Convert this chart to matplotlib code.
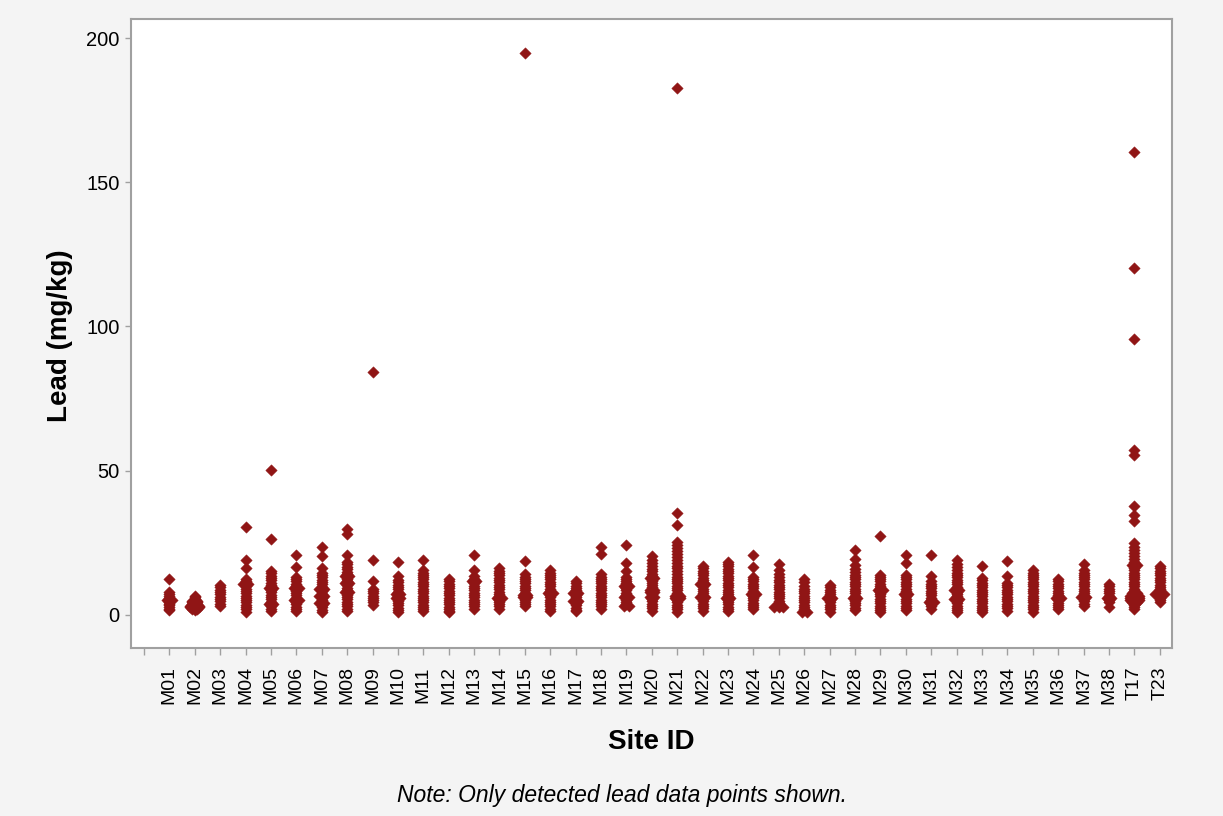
#!/usr/bin/env python3

# lead results by sampling site, one column of diamonds per site
import numpy as np
import matplotlib
matplotlib.use("Agg")
import matplotlib.pyplot as plt

plt.rcParams['font.family'] = ['Liberation Sans', 'DejaVu Sans']

site_ids = ["M01", "M02", "M03", "M04", "M05", "M06", "M07", "M08", "M09", "M10",
            "M11", "M12", "M13", "M14", "M15", "M16", "M17", "M18", "M19", "M20",
            "M21", "M22", "M23", "M24", "M25", "M26", "M27", "M28", "M29", "M30",
            "M31", "M32", "M33", "M34", "M35", "M36", "M37", "M38", "T17", "T23"]

# detected lead, mg/kg
lead_M01 = [12.5, 7.9, 7.2, 6.5, 5.8, 5.0, 5.0, 4.4, 3.8, 3.2, 2.6, 2.0, 1.6]
lead_M02 = [6.5, 6.0, 5.4, 4.8, 4.8, 4.2, 4.2, 3.6, 3.6, 3.0, 3.0, 3.0, 2.5, 2.5, 2.5, 2.0, 2.0, 1.6]
lead_M03 = [10.2, 9.4, 8.6, 7.8, 7.0, 6.2, 5.4, 4.6, 3.8, 3.0]
lead_M04 = [30.3, 19.0, 16.2, 12.5, 11.5, 10.5, 10.5, 9.8, 9.0, 8.2, 7.4, 6.6, 5.8, 5.0, 4.2, 3.4, 2.6, 1.8, 1.0]
lead_M05 = [50.3, 26.4, 15.1, 14.3, 13.5, 12.7, 11.9, 11.1, 10.3, 9.5, 9.1, 9.1, 8.5, 7.7, 6.9, 6.1, 5.3, 4.5,
            3.6, 3.6, 2.8, 2.0, 1.2]
lead_M06 = [20.6, 16.4, 13.1, 12.3, 11.5, 10.7, 9.9, 9.1, 9.1, 8.3, 7.5, 6.7, 5.9, 5.1, 5.1, 4.3, 3.5, 2.7, 1.9, 1.3]
lead_M07 = [23.5, 20.4, 16.2, 14.5, 13.7, 12.9, 12.1, 11.3, 10.5, 9.7, 8.9, 8.9, 8.1, 7.3, 6.5, 6.5, 5.7, 4.9,
            4.1, 4.1, 3.3, 2.5, 1.7, 1.0]
lead_M08 = [29.6, 28.1, 20.6, 18.3, 17.4, 16.5, 15.7, 14.9, 14.1, 13.3, 13.3, 12.5, 11.7, 10.9, 10.9, 10.1, 9.3,
            8.5, 7.7, 7.7, 6.9, 6.1, 5.3, 4.5, 3.7, 2.9, 2.1, 1.3]
lead_M09 = [84.2, 19.1, 11.7, 9.0, 8.2, 7.4, 6.6, 5.8, 5.0, 4.2, 3.3]
lead_M10 = [18.3, 13.4, 12.0, 11.2, 10.4, 9.6, 8.8, 8.0, 7.2, 7.2, 6.4, 5.6, 5.6, 4.8, 4.0, 3.2, 2.4, 1.6, 1.0]
lead_M11 = [19.1, 15.6, 14.6, 13.8, 13.0, 12.2, 11.4, 10.6, 9.8, 9.0, 8.2, 7.4, 6.6, 5.8, 5.0, 4.2, 3.4, 2.6, 1.8, 1.2]
lead_M12 = [12.3, 11.5, 10.7, 9.9, 9.1, 8.3, 7.5, 6.7, 5.9, 5.1, 4.3, 3.5, 2.7, 1.9, 1.2, 0.8]
lead_M13 = [20.6, 15.5, 13.5, 12.3, 11.6, 11.6, 10.8, 10.0, 9.2, 8.4, 7.6, 6.8, 6.0, 5.2, 4.4, 3.6, 2.8, 2.1]
lead_M14 = [16.0, 15.2, 14.4, 13.6, 12.8, 12.0, 11.2, 10.4, 9.6, 8.8, 8.0, 7.2, 6.4, 5.9, 5.9, 5.2, 4.4, 3.6, 2.8, 2.0]
lead_M15 = [194.8, 18.5, 14.0, 13.2, 12.4, 11.6, 10.8, 10.0, 9.2, 8.4, 7.6, 6.8, 6.8, 6.0, 6.0, 5.2, 4.4, 3.6, 2.8]
lead_M16 = [15.4, 14.6, 13.8, 13.0, 12.2, 11.4, 10.6, 9.8, 9.0, 8.2, 7.6, 7.6, 6.8, 6.0, 5.2, 4.4, 3.6, 2.8, 2.0, 1.3]
lead_M17 = [11.6, 10.8, 10.0, 9.2, 8.4, 7.6, 7.6, 6.8, 6.0, 5.2, 4.7, 4.7, 4.0, 3.2, 2.4, 1.6, 1.2]
lead_M18 = [23.6, 21.0, 14.0, 13.2, 12.4, 11.6, 10.8, 10.0, 9.2, 8.4, 7.6, 6.8, 6.0, 5.2, 4.4, 3.6, 2.8, 1.9]
lead_M19 = [24.3, 17.8, 15.2, 13.2, 12.4, 11.6, 10.8, 10.0, 10.0, 9.2, 8.4, 7.6, 6.8, 6.0, 6.0, 5.2, 4.4, 3.6, 2.8, 2.8]
lead_M20 = [20.4, 19.0, 17.8, 16.8, 15.8, 15.0, 14.2, 13.4, 12.6, 12.6, 11.8, 11.0, 10.2, 9.4, 8.6, 8.6, 7.8, 7.8,
            7.0, 6.2, 6.2, 5.4, 4.6, 3.8, 3.0, 2.2, 1.4]
lead_M21 = [182.6, 35.4, 31.1, 25.3, 24.2, 23.1, 22.0, 21.0, 20.0, 19.0, 18.0, 17.0, 16.0, 15.0, 14.0, 13.2, 12.4,
            11.6, 10.8, 10.0, 9.2, 8.4, 7.6, 6.8, 6.3, 6.3, 5.8, 5.8, 5.0, 4.2, 3.4, 2.6, 1.8, 1.0]
lead_M22 = [16.8, 16.0, 15.2, 14.4, 13.6, 12.8, 12.0, 11.2, 10.5, 10.5, 9.8, 9.0, 8.2, 7.4, 6.6, 6.1, 6.1, 5.4,
            4.6, 3.8, 3.0, 2.2, 1.4]
lead_M23 = [18.3, 17.5, 16.7, 15.9, 15.1, 14.3, 13.5, 12.7, 11.9, 11.1, 10.3, 9.5, 8.7, 7.9, 7.1, 6.3, 5.9, 5.9,
            5.1, 4.3, 3.5, 2.7, 1.9, 1.2]
lead_M24 = [20.6, 16.4, 13.1, 12.3, 11.5, 10.7, 9.9, 9.1, 8.3, 7.3, 7.3, 6.5, 5.7, 4.9, 4.1, 3.3, 2.5, 2.1]
lead_M25 = [17.4, 15.6, 14.2, 13.0, 12.0, 11.2, 10.4, 9.6, 8.8, 8.0, 7.2, 6.4, 5.6, 4.8, 4.0, 3.3, 2.7, 2.7, 2.7]
lead_M26 = [12.5, 11.2, 9.8, 9.0, 8.2, 7.4, 6.6, 5.8, 5.0, 4.2, 3.4, 2.6, 1.8, 1.0, 1.0]
lead_M27 = [10.2, 9.4, 8.6, 7.8, 7.0, 6.2, 5.6, 5.6, 5.0, 4.2, 3.4, 2.6, 1.8, 1.0]
lead_M28 = [22.3, 19.4, 17.1, 15.8, 14.8, 13.8, 13.0, 12.2, 11.4, 10.6, 9.8, 9.0, 8.2, 7.4, 6.6, 5.6, 5.6, 4.8,
            4.0, 3.2, 2.4, 1.6]
lead_M29 = [27.3, 13.9, 13.1, 12.3, 11.5, 10.7, 9.9, 9.1, 8.7, 8.7, 7.9, 7.1, 6.3, 5.5, 4.7, 3.9, 3.1, 2.3, 1.5, 1.0]
lead_M30 = [20.8, 17.8, 13.8, 13.0, 12.2, 11.4, 10.6, 9.8, 9.0, 8.2, 7.1, 7.1, 6.3, 5.5, 4.7, 3.9, 3.1, 2.3, 1.5]
lead_M31 = [20.6, 13.4, 11.5, 10.7, 9.9, 9.1, 8.3, 7.5, 6.7, 5.9, 5.1, 4.4, 4.4, 3.6, 2.8, 2.1]
lead_M32 = [19.1, 17.7, 16.5, 15.5, 14.5, 13.7, 12.9, 12.1, 11.3, 10.5, 9.7, 8.7, 8.7, 7.9, 7.1, 6.3, 5.5, 5.5,
            4.7, 3.9, 3.1, 2.3, 1.5, 1.0]
lead_M33 = [16.9, 12.7, 11.9, 11.1, 10.3, 9.5, 8.7, 7.9, 7.1, 6.3, 5.5, 4.7, 3.9, 3.1, 2.3, 1.5, 1.0]
lead_M34 = [18.5, 13.5, 11.0, 10.2, 9.4, 8.6, 7.8, 7.0, 6.2, 5.4, 4.6, 3.8, 3.0, 2.2, 1.4]
lead_M35 = [15.4, 14.6, 13.8, 13.0, 12.2, 11.4, 10.6, 9.8, 9.0, 8.2, 7.4, 6.6, 5.8, 5.0, 4.2, 3.4, 2.6, 1.8, 1.0]
lead_M36 = [12.3, 11.5, 10.7, 9.9, 9.1, 8.3, 7.5, 6.7, 5.6, 5.6, 4.9, 4.1, 3.3, 2.5, 2.1]
lead_M37 = [17.7, 15.4, 14.6, 13.8, 13.0, 12.2, 11.4, 10.6, 9.8, 9.0, 8.2, 7.4, 6.6, 6.1, 6.1, 5.4, 4.6, 3.8, 3.0]
lead_M38 = [10.6, 9.8, 9.0, 8.2, 7.4, 6.6, 5.8, 5.8, 5.0, 4.2, 2.7]
lead_T17 = [160.5, 120.3, 95.8, 57.0, 55.3, 37.8, 34.5, 32.6, 24.7, 23.5, 22.4, 21.3, 20.2, 19.2, 18.2, 17.2,
            17.2, 16.3, 15.4, 14.6, 13.8, 13.0, 12.2, 11.4, 10.6, 9.8, 9.0, 8.2, 7.4, 7.4, 6.6, 6.6, 6.6, 5.8,
            5.8, 5.8, 5.0, 5.0, 5.0, 4.2, 4.2, 3.4, 2.6, 2.1]
lead_T23 = [16.8, 16.0, 15.2, 14.4, 13.6, 12.8, 12.0, 11.2, 10.4, 9.6, 8.8, 8.0, 7.3, 7.3, 7.3, 6.5, 5.7, 5.0, 4.4]

lead_by_site = [lead_M01, lead_M02, lead_M03, lead_M04, lead_M05, lead_M06, lead_M07, lead_M08, lead_M09, lead_M10,
                lead_M11, lead_M12, lead_M13, lead_M14, lead_M15, lead_M16, lead_M17, lead_M18, lead_M19, lead_M20,
                lead_M21, lead_M22, lead_M23, lead_M24, lead_M25, lead_M26, lead_M27, lead_M28, lead_M29, lead_M30,
                lead_M31, lead_M32, lead_M33, lead_M34, lead_M35, lead_M36, lead_M37, lead_M38, lead_T17, lead_T23]

marker_red = "#901515"
axis_grey = "#a0a0a0"

# tied values get nudged sideways so they don't sit on top of each other
xs, ys = [], []
for i, vals in enumerate(lead_by_site):
    vals = np.asarray(vals)
    for v in np.unique(vals):
        k = int((vals == v).sum())
        for j in range(k):
            xs.append(i + 1 + (j - (k - 1) / 2) * 0.18)
            ys.append(v)

fig = plt.figure(figsize=(12.23, 8.16), dpi=100, facecolor="#f4f4f4")
ax = fig.add_axes([0.1071, 0.2059, 0.8512, 0.7704])
ax.set_facecolor("white")

ax.scatter(xs, ys, marker="D", s=34, color=marker_red, edgecolors=marker_red, linewidths=0.3, zorder=3)

ax.set_xlim(-0.51, 40.48)
ax.set_ylim(-11.6, 206.6)

ax.set_xticks(range(0, len(site_ids) + 1))
ax.set_xticklabels([""] + site_ids, rotation=90, fontsize=14)
ax.set_yticks([0, 50, 100, 150, 200])
ax.tick_params(axis="y", labelsize=14.5, length=4.3, width=1, color=axis_grey, pad=4)
ax.tick_params(axis="x", length=5, width=1, color=axis_grey, pad=8)

for sp in ax.spines.values():
    sp.set_color(axis_grey)
    sp.set_linewidth(1.5)

fig.text(651 / 1223, 1 - 749 / 816, "Site ID", ha="center", va="baseline", fontsize=20, fontweight="bold")
fig.text(66.7 / 1223, 1 - 335.5 / 816, "Lead (mg/kg)", rotation=90, rotation_mode="anchor",
         ha="center", va="baseline", fontsize=20, fontweight="bold")
fig.text(622 / 1223, 1 - 801.7 / 816, "Note: Only detected lead data points shown.",
         ha="center", va="baseline", fontsize=16.5, style="italic")

fig.savefig("out.png", dpi=100, facecolor=fig.get_facecolor())
